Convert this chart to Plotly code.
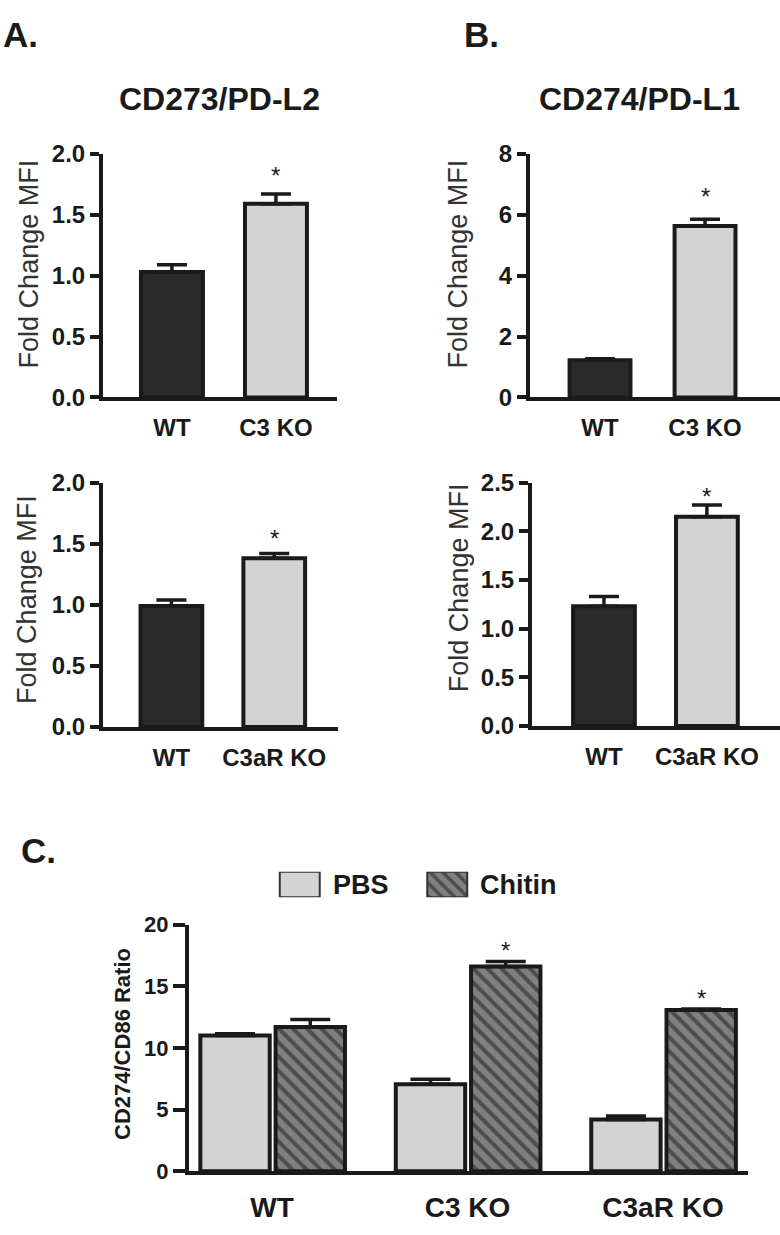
import plotly.graph_objects as go

W, H = 780, 1235

# ---------------- data ----------------
a1_cats = ["WT", "C3 KO"]
a1_vals = [1.03, 1.59]
a1_err = [0.06, 0.08]
a1_sig = [False, True]

a2_cats = ["WT", "C3aR KO"]
a2_vals = [0.99, 1.38]
a2_err = [0.05, 0.04]
a2_sig = [False, True]

b1_cats = ["WT", "C3 KO"]
b1_vals = [1.22, 5.63]
b1_err = [0.05, 0.22]
b1_sig = [False, True]

b2_cats = ["WT", "C3aR KO"]
b2_vals = [1.23, 2.15]
b2_err = [0.10, 0.12]
b2_sig = [False, True]

c_cats = ["WT", "C3 KO", "C3aR KO"]
c_pbs = [11.0, 7.06, 4.2]
c_pbs_err = [0.15, 0.4, 0.27]
c_chitin = [11.7, 16.6, 13.07]
c_chitin_err = [0.6, 0.4, 0.08]
c_chitin_sig = [False, True, True]

legend_labels = ["PBS", "Chitin"]

# ---------------- styles ----------------
FONT = "Liberation Sans, Arial, Helvetica, sans-serif"
INK = "#1a1a1a"
DARK = "#2a2a2a"
LIGHT = "#d3d3d3"
MID = "#808080"


def dx(x0, x1):
    return [x0 / W, x1 / W]


def dy(top, bottom):
    return [1 - bottom / H, 1 - top / H]


fig = go.Figure()
annotations = []
layout = {}

panels = [
    dict(cats=a1_cats, vals=a1_vals, err=a1_err, sig=a1_sig, xpx=(103, 337), ypx=(143, 392),
         ymax=2.0, dtick=0.5, fmt=".1f", xr=(-0.663, 1.587), bw=0.596, shift=19),
    dict(cats=a2_cats, vals=a2_vals, err=a2_err, sig=a2_sig, xpx=(103, 338), ypx=(479, 729),
         ymax=2.0, dtick=0.5, fmt=".1f", xr=(-0.665, 1.62), bw=0.6, shift=15),
    dict(cats=b1_cats, vals=b1_vals, err=b1_err, sig=b1_sig, xpx=(530, 780), ypx=(143, 392),
         ymax=8, dtick=2, fmt="d", xr=(-0.667, 1.714), bw=0.58, shift=23),
    dict(cats=b2_cats, vals=b2_vals, err=b2_err, sig=b2_sig, xpx=(532, 780), ypx=(479, 728),
         ymax=2.5, dtick=0.5, fmt=".1f", xr=(-0.699, 1.71), bw=0.6, shift=8),
]

for i, p in enumerate(panels, start=1):
    xa = "x" if i == 1 else f"x{i}"
    ya = "y" if i == 1 else f"y{i}"
    fig.add_trace(go.Bar(
        x=p["cats"], y=p["vals"], xaxis=xa, yaxis=ya, width=p["bw"],
        marker=dict(color=[DARK, LIGHT], line=dict(color=INK, width=4)),
        error_y=dict(type="data", symmetric=False, array=p["err"], arrayminus=[0] * len(p["err"]),
                     color=INK, thickness=3.5, width=15),
        showlegend=False, hoverinfo="skip",
    ))
    layout["xaxis" if i == 1 else f"xaxis{i}"] = dict(
        domain=dx(*p["xpx"]), anchor=ya, type="category", range=list(p["xr"]),
        showline=True, linewidth=4, linecolor=INK, ticks="", showgrid=False, zeroline=False,
        tickfont=dict(family=FONT, size=24, color=INK, weight="bold"), ticklabelstandoff=6,
    )
    layout["yaxis" if i == 1 else f"yaxis{i}"] = dict(
        domain=dy(*p["ypx"]), anchor=xa, range=[0, p["ymax"]], dtick=p["dtick"], tick0=0,
        tickformat=p["fmt"], showline=True, linewidth=4, linecolor=INK, ticks="outside",
        ticklen=9, tickwidth=4, tickcolor=INK, showgrid=False, zeroline=False,
        tickfont=dict(family=FONT, size=24, color=INK, weight="bold"),
    )
    for j, s in enumerate(p["sig"]):
        if s:
            annotations.append(dict(
                x=j, y=p["vals"][j] + p["err"][j], xref=xa, yref=ya, text="*", showarrow=False,
                yanchor="middle", yshift=p["shift"], font=dict(family=FONT, size=24, color=INK),
            ))

# ---------------- panel C ----------------
c_bw = 0.355
c_off_pbs = -0.367
c_off_chi = 0.018
fig.add_trace(go.Bar(
    x=c_cats, y=c_pbs, xaxis="x5", yaxis="y5", width=c_bw, offset=c_off_pbs,
    marker=dict(color=LIGHT, line=dict(color=INK, width=4)),
    error_y=dict(type="data", symmetric=False, array=c_pbs_err, arrayminus=[0] * 3,
                 color=INK, thickness=3.5, width=20),
    showlegend=False, hoverinfo="skip",
))
fig.add_trace(go.Bar(
    x=c_cats, y=c_chitin, xaxis="x5", yaxis="y5", width=c_bw, offset=c_off_chi,
    marker=dict(color=MID, line=dict(color=INK, width=4),
                pattern=dict(shape="\\", fgcolor=INK, bgcolor=MID, size=10, solidity=0.4)),
    error_y=dict(type="data", symmetric=False, array=c_chitin_err, arrayminus=[0] * 3,
                 color=INK, thickness=3.5, width=20),
    showlegend=False, hoverinfo="skip",
))
layout["xaxis5"] = dict(
    domain=dx(189, 748), anchor="y5", type="category", range=[-0.425, 2.435],
    showline=True, linewidth=4, linecolor=INK, ticks="", showgrid=False, zeroline=False,
    tickfont=dict(family=FONT, size=28, color=INK, weight="bold"), ticklabelstandoff=8,
)
layout["yaxis5"] = dict(
    domain=dy(931, 1183), anchor="x5", range=[0, 20], dtick=5, tick0=0,
    showline=True, linewidth=4, linecolor=INK, ticks="outside", ticklen=12, tickwidth=4,
    tickcolor=INK, showgrid=False, zeroline=False,
    tickfont=dict(family=FONT, size=22, color=INK, weight="bold"),
)
for j, s in enumerate(c_chitin_sig):
    if s:
        annotations.append(dict(
            x=j + c_off_chi + c_bw / 2, y=c_chitin[j] + c_chitin_err[j], xref="x5", yref="y5",
            text="*", showarrow=False, yanchor="middle", yshift=11,
            font=dict(family=FONT, size=24, color=INK),
        ))

# ---------------- legend (mini axis) ----------------
leg_w = 0.271
fig.add_trace(go.Bar(
    x=[0], y=[1], xaxis="x6", yaxis="y6", width=leg_w,
    marker=dict(color=LIGHT, line=dict(color="#333333", width=2)),
    showlegend=False, hoverinfo="skip",
))
fig.add_trace(go.Bar(
    x=[1], y=[1], xaxis="x6", yaxis="y6", width=leg_w,
    marker=dict(color=MID, line=dict(color="#333333", width=2),
                pattern=dict(shape="\\", fgcolor=INK, bgcolor=MID, size=9, solidity=0.4)),
    showlegend=False, hoverinfo="skip",
))
layout["xaxis6"] = dict(domain=dx(226, 521), anchor="y6", range=[-0.5, 1.5], visible=False)
layout["yaxis6"] = dict(domain=dy(877, 903), anchor="x6", range=[0, 1], visible=False)
for j, lab in enumerate(legend_labels):
    annotations.append(dict(
        x=j + leg_w / 2, y=0.5, xref="x6", yref="y6", text=lab, showarrow=False,
        xanchor="left", yanchor="middle", xshift=11,
        font=dict(family=FONT, size=27, color=INK, weight="bold"),
    ))

# ---------------- text ----------------
def ptext(text, x, y, size, bold=True, xanchor="center", angle=0, color=INK):
    annotations.append(dict(
        x=x / W, y=1 - y / H, xref="paper", yref="paper", text=text, showarrow=False,
        xanchor=xanchor, yanchor="middle", textangle=angle,
        font=dict(family=FONT, size=size, color=color, weight="bold" if bold else "normal"),
    ))


ptext("A.", 1, 21, 35, xanchor="left")
ptext("B.", 462, 21, 35, xanchor="left")
ptext("C.", 19, 855, 35, xanchor="left")
ptext("CD273/PD-L2", 219, 87, 32)
ptext("CD274/PD-L1", 639, 87, 32)
ptext("Fold Change MFI", 29, 256, 27, bold=False, angle=-90, color="#333333")
ptext("Fold Change MFI", 27, 599, 27, bold=False, angle=-90, color="#333333")
ptext("Fold Change MFI", 458, 256, 27, bold=False, angle=-90, color="#333333")
ptext("Fold Change MFI", 459, 587, 27, bold=False, angle=-90, color="#333333")
ptext("CD274/CD86 Ratio", 123, 1053, 22, angle=-90)

fig.update_layout(
    width=W, height=H, margin=dict(l=0, r=0, t=0, b=0),
    paper_bgcolor="white", plot_bgcolor="white", barmode="overlay",
    annotations=annotations, showlegend=False,
    **layout,
)

fig.write_html(
    "out.html",
    config={"displayModeBar": False, "staticPlot": True},
    post_script="document.body.style.margin='0';document.body.style.overflow='hidden';",
)
